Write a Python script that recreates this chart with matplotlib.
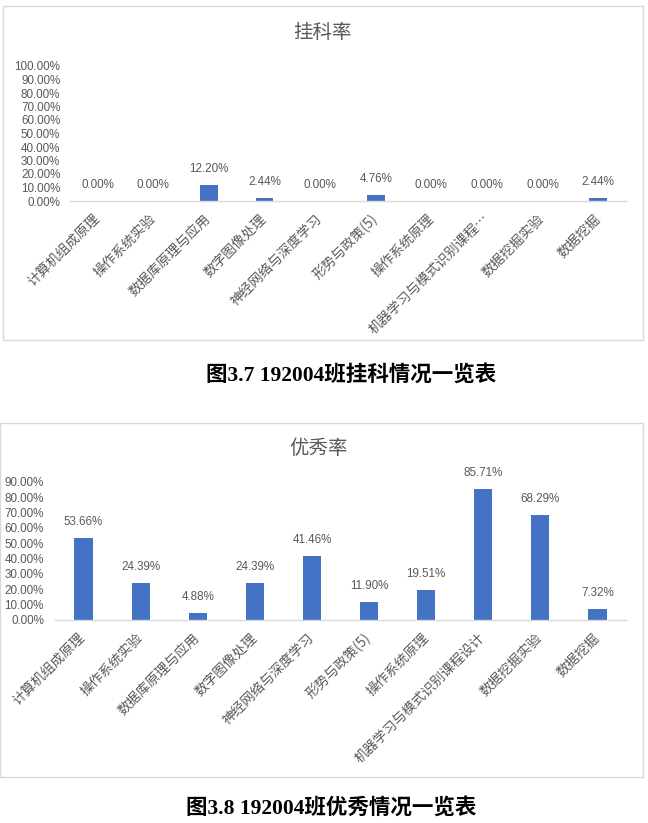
import matplotlib
matplotlib.use("Agg")
import matplotlib.pyplot as plt
from matplotlib.patches import Rectangle
from matplotlib.ticker import FuncFormatter
import numpy as np

# ---- data ----
cats_fail = ['计算机组成原理', '操作系统实验', '数据库原理与应用', '数字图像处理',
             '神经网络与深度学习', '形势与政策(5)', '操作系统原理',
             '机器学习与模式识别课程…', '数据挖掘实验', '数据挖掘']
fail_rate = [0.00, 0.00, 12.20, 2.44, 0.00, 4.76, 0.00, 0.00, 0.00, 2.44]

cats_exc = ['计算机组成原理', '操作系统实验', '数据库原理与应用', '数字图像处理',
            '神经网络与深度学习', '形势与政策(5)', '操作系统原理',
            '机器学习与模式识别课程设计', '数据挖掘实验', '数据挖掘']
exc_rate = [53.66, 24.39, 4.88, 24.39, 41.46, 11.90, 19.51, 85.71, 68.29, 7.32]

title_fail = '挂科率'
title_exc = '优秀率'
cap_fail = '图3.7 192004班挂科情况一览表'
cap_exc = '图3.8 192004班优秀情况一览表'

W, H = 648, 823
BAR = '#4472C4'
TXT = '#595959'
GRID = '#d9d9d9'
CJK = ['Noto Sans CJK SC', 'DejaVu Sans']
NUM = ['Liberation Sans', 'DejaVu Sans']
CAP = ['Liberation Serif', 'Noto Sans CJK SC', 'DejaVu Serif']

fig = plt.figure(figsize=(W / 100, H / 100), dpi=100)
fig.patch.set_facecolor('white')


def px_axes(x0, y0, x1, y1):
    return fig.add_axes([x0 / W, 1 - y1 / H, (x1 - x0) / W, (y1 - y0) / H])


def box(x0, y0, x1, y1):
    fig.add_artist(Rectangle((x0 / W, 1 - y1 / H), (x1 - x0) / W, (y1 - y0) / H,
                             transform=fig.transFigure, fill=False,
                             edgecolor=GRID, lw=1.0))


def draw(ax, cats, vals, ymax, title, tx, ty, ypad):
    x = np.arange(len(cats))
    v = np.array(vals) / 100.0
    ax.bar(x, v, width=0.32, color=BAR, zorder=2)
    ax.set_xlim(-0.5, len(cats) - 0.5)
    ax.set_ylim(0, ymax)
    ax.set_yticks(np.arange(0, ymax + 1e-9, 0.1))
    ax.yaxis.set_major_formatter(FuncFormatter(lambda y, p: f'{y * 100:.2f}%'))
    for lab in ax.get_yticklabels():
        lab.set_family(NUM)
    ax.tick_params(axis='y', length=0, pad=ypad, labelsize=8.4, labelcolor=TXT)
    ax.set_xticks(x)
    ax.set_xticklabels(cats, rotation=45, ha='right', va='center',
                       rotation_mode='anchor', family=CJK, fontsize=9.8,
                       color=TXT)
    ax.tick_params(axis='x', length=0, pad=11.5)
    for s in ['top', 'right', 'left']:
        ax.spines[s].set_visible(False)
    ax.spines['bottom'].set_color(GRID)
    ax.spines['bottom'].set_linewidth(1.0)
    ax.set_facecolor('none')
    for xi, vi, raw in zip(x, v, vals):
        ax.annotate(f'{raw:.2f}%', (xi, vi), xytext=(0, 11.5),
                    textcoords='offset points', ha='center', va='center',
                    fontsize=8.4, family=NUM, color=TXT, annotation_clip=False)
    fig.text(tx / W, 1 - ty / H, title, ha='center', va='center',
             fontsize=14, family=CJK, color=TXT)


# chart 1
box(3, 6, 643, 340)
ax1 = px_axes(70, 66, 626, 201)
draw(ax1, cats_fail, fail_rate, 1.0, title_fail, 323, 32, 7)
fig.text(351 / W, 1 - 375 / H, cap_fail, ha='center', va='center',
         fontsize=15.5, family=CAP, weight='bold', color='black')

# chart 2
box(0, 423, 643, 777)
ax2 = px_axes(55, 482, 626, 620)
draw(ax2, cats_exc, exc_rate, 0.9, title_exc, 319, 448, 8)
fig.text(331 / W, 1 - 808 / H, cap_exc, ha='center', va='center',
         fontsize=15.5, family=CAP, weight='bold', color='black')

fig.savefig('out.png', dpi=100)
